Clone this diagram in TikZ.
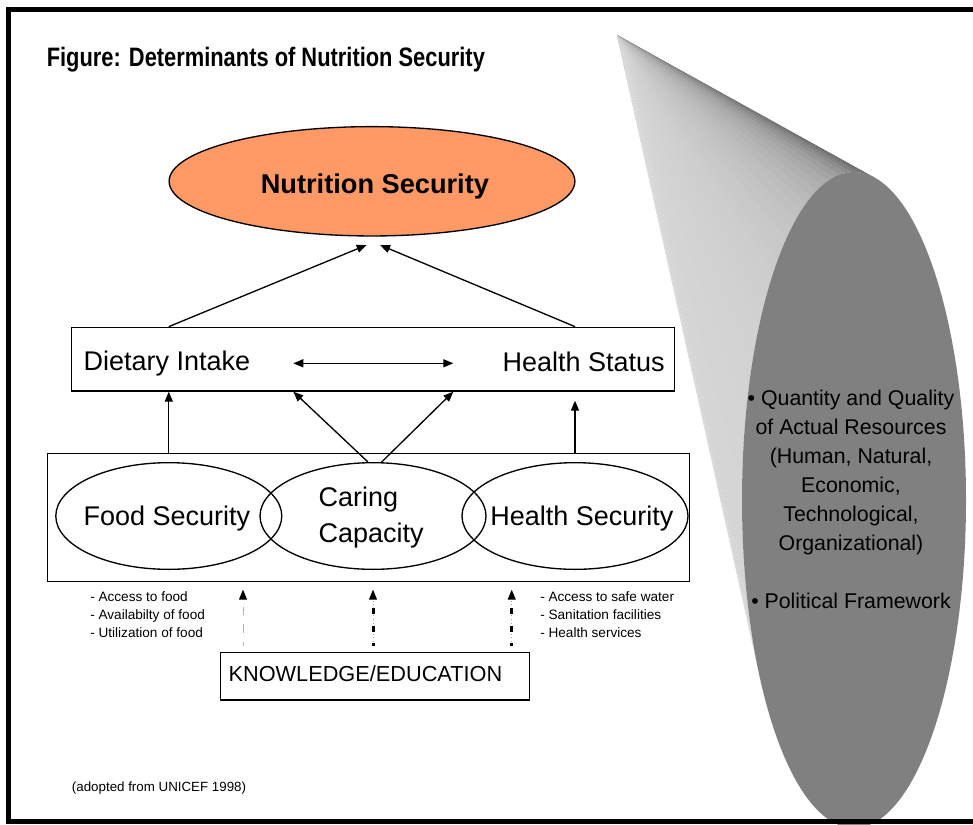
\documentclass[tikz,border=0pt]{standalone}
\usepackage{fontspec}
\setmainfont{Liberation Sans}
\newfontfamily\narrowfont[FakeStretch=0.82]{Liberation Sans}
\usetikzlibrary{arrows.meta, fit, shapes.geometric}
\definecolor{nsorange}{HTML}{FF9966}

\begin{document}
\begin{tikzpicture}
  [x=0.75pt, y=-0.75pt,
   panel/.style={draw, line width=1pt, inner sep=0pt},
   oval/.style={ellipse, draw, line width=1pt, inner sep=0pt,
     minimum width=169.5pt, minimum height=80pt},
   big/.style={inner sep=0pt, font=\fontsize{20.25}{27.5}\selectfont},
   small/.style={inner sep=0pt, align=left, font=\fontsize{10.2}{13.5}\selectfont},
   arr/.style={line width=1pt, -{Triangle[length=7.5pt, width=6pt]}},
   twoway/.style={line width=1pt, {Triangle[length=7.5pt, width=6pt]}-{Triangle[length=7.5pt, width=6pt]}},
   hintfaint/.style={line width=0.75pt, draw=black!30, dash pattern=on 6.5pt off 6.6pt,
     dash phase=3.5pt, -{Triangle[length=7.5pt, width=6pt, color=black]}, shorten >=5.5pt},
   hintdot/.style={line width=0.75pt, draw=black!35, dotted,
     -{Triangle[length=7.5pt, width=6pt, color=black]}, shorten >=5.5pt},
   hintbar/.style={line width=2.25pt, dash pattern=on 4.9pt off 8.4pt, dash phase=3.1pt,
     shorten >=13.7pt}]
  \useasboundingbox (0,0) rectangle (973,824);

  % resources cylinder
  \coordinate (apex) at (617,35);
  \coordinate (cyl) at (854,500);
  \foreach \i in {0,...,44} {
    \pgfmathsetmacro{\ta}{-79.4-\i*2.974}
    \pgfmathsetmacro{\tb}{\ta-3.3}
    \pgfmathsetmacro{\tone}{16+50*exp(-(\i*2.974)/22)}
    \fill[black!\tone] (apex) -- ([shift={(\ta:112 and 328)}]cyl)
      -- ([shift={(\tb:112 and 328)}]cyl) -- cycle;
  }
  \node[ellipse, fill=black!50, inner sep=0pt, minimum width=168pt,
    minimum height=492pt] (face) at (cyl) {};
  \node[align=center, inner sep=0pt, anchor=north,
    font=\fontsize{16}{21.75}\selectfont] (res) at (851,390)
    {• Quantity and Quality\\of Actual Resources\\(Human, Natural,\\Economic,\\
     Technological,\\Organizational)\\[21.75pt]• Political Framework};

  \node[anchor=base west, inner sep=0pt,
    font=\narrowfont\bfseries\fontsize{20}{24}\selectfont] (title) at (46.5,66)
    {Figure: Determinants of Nutrition Security};

  \node[ellipse, draw, line width=1pt, fill=nsorange, inner sep=0pt,
    minimum width=304.3pt, minimum height=82pt] (ns) at (372,181.3) {};
  \node[anchor=base, inner sep=0pt, font=\bfseries\fontsize{20.4}{24}\selectfont]
    (nstxt) at (374.9,193) {Nutrition Security};
  \coordinate (nsL) at (366.7,245);
  \coordinate (nsR) at (380,245);

  \node[panel, fit={(71.7,327.3) (674.3,391)}] (intake) {};
  \node[big, anchor=base west] (diet) at (83.3,370) {Dietary Intake};
  \node[big, anchor=base east] (status) at (665,371) {Health Status};
  \coordinate (midL) at (293.3,363.3);
  \coordinate (midR) at (453.3,363.3);

  \node[panel, fit={(47.3,453.3) (689.3,581.7)}] (pillars) {};
  \node[oval] (food) at (168.8,516) {};
  \node[oval] (caring) at (373,516) {};
  \node[oval] (health) at (575,516) {};
  \node[big, anchor=base west] (foodtxt) at (83.3,525) {Food Security};
  \node[big, anchor=north west, align=left] (caretxt) at (318.3,486.3) {Caring\\Capacity};
  \node[big, anchor=base west] (healthtxt) at (490,525) {Health Security};

  \draw[arr] (intake.north -| food) -- (nsL);
  \draw[arr] (intake.north -| health) -- (nsR);
  \draw[twoway] (midL) -- (midR);
  \draw[arr] (pillars.north -| food) -- (intake.south -| food);
  \draw[arr, shorten >=6.75pt] (pillars.north -| health) -- (intake.south -| health);
  \draw[arr] ([xshift=-3.75pt]caring.north) -- (intake.south -| midL);
  \draw[arr] ([xshift=6.5pt]caring.north) -- (intake.south -| midR);

  \node[small, anchor=north west] (foodlist) at (90,591.5)
    {- Access to food\\- Availabilty of food\\- Utilization of food};
  \node[small, anchor=north west] (healthlist) at (540,591.5)
    {- Access to safe water\\- Sanitation facilities\\- Health services};

  \node[panel, fit={(220.7,652.3) (529.3,700)}] (know) {};
  \node[anchor=base west, inner sep=0pt, font=\fontsize{16.3}{20}\selectfont]
    (knowtxt) at (228.3,681) {KNOWLEDGE/EDUCATION};
  \coordinate (kA) at (243,645.7);
  \coordinate (kB) at (373,645.7);
  \coordinate (kC) at (511.7,645.7);
  \draw[hintfaint] (kA) -- (kA |- pillars.south);
  \draw[hintdot] (kB) -- (kB |- pillars.south);
  \draw[hintbar] (kB) -- (kB |- pillars.south);
  \draw[hintdot] (kC) -- (kC |- pillars.south);
  \draw[hintbar] (kC) -- (kC |- pillars.south);

  \node[anchor=base west, inner sep=0pt, font=\fontsize{10}{12}\selectfont]
    (source) at (71.7,791) {(adopted from UNICEF 1998)};

  \draw[line width=3.5pt] (8.3,9.8) rectangle (1000,821.5);
\end{tikzpicture}
\end{document}
